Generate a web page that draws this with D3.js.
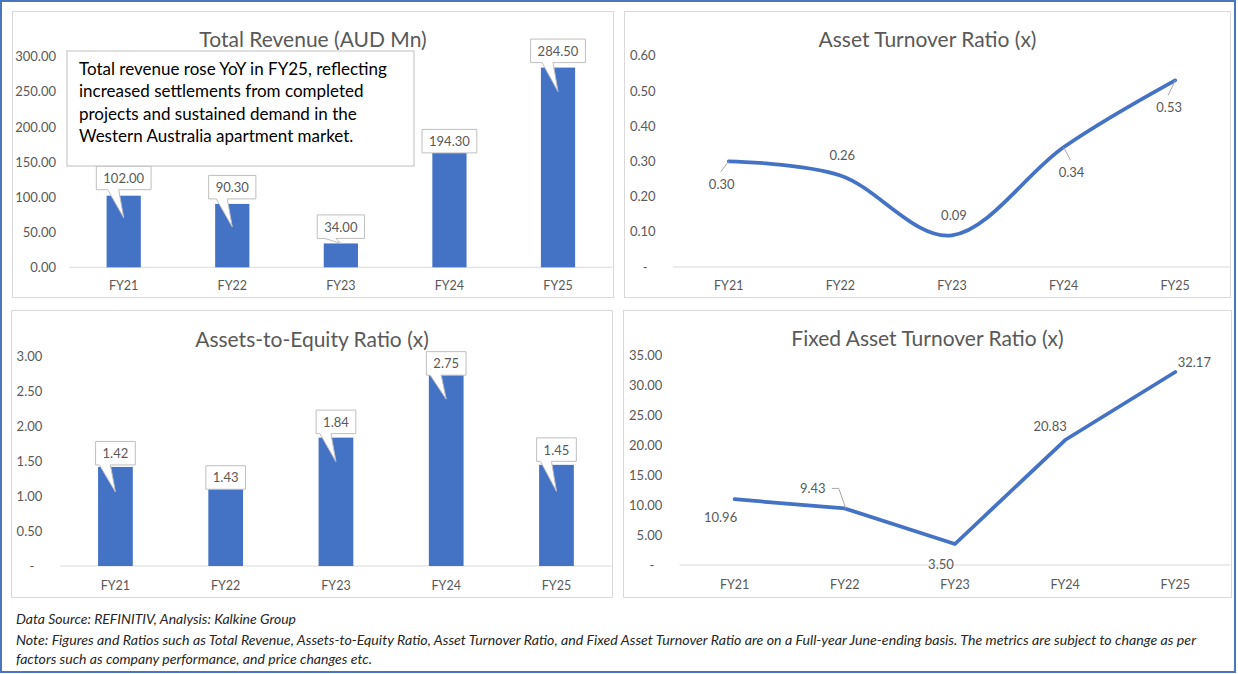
<!DOCTYPE html>
<html>
<head>
<meta charset="utf-8">
<script src="https://cdn.jsdelivr.net/npm/d3@7"></script>
<style>
  html, body { margin: 0; padding: 0; background: #fff; }
  svg { display: block; }
  text { font-family: Lato, "Open Sans", sans-serif; fill: #595959; }
</style>
</head>
<body>
<svg id="chart" width="1238" height="674"></svg>
<script>
// ---------------- DATA ----------------
const categories = ["FY21", "FY22", "FY23", "FY24", "FY25"];
const totalRevenue = [102.00, 90.30, 34.00, 194.30, 284.50];
const assetTurnover = [0.30, 0.26, 0.09, 0.34, 0.53];
const assetsToEquity = [1.42, 1.43, 1.84, 2.75, 1.45];
const fixedAssetTurnover = [10.96, 9.43, 3.50, 20.83, 32.17];

const revenueTicks = [0, 50, 100, 150, 200, 250, 300];
const assetTurnoverTicks = [0, 0.1, 0.2, 0.3, 0.4, 0.5, 0.6];
const equityTicks = [0, 0.5, 1, 1.5, 2, 2.5, 3];
const fixedTicks = [0, 5, 10, 15, 20, 25, 30, 35];

const titles = ["Total Revenue (AUD Mn)", "Asset Turnover Ratio (x)", "Assets-to-Equity Ratio (x)", "Fixed Asset Turnover Ratio (x)"];
const annotationLines = [
  "Total revenue rose YoY in FY25, reflecting",
  "increased settlements from completed",
  "projects and sustained demand in the",
  "Western Australia apartment market."
];
const footerLines = [
  "Data Source: REFINITIV, Analysis: Kalkine Group",
  "Note: Figures and Ratios such as Total Revenue, Assets-to-Equity Ratio, Asset Turnover Ratio, and Fixed Asset Turnover Ratio are on a Full-year June-ending basis. The metrics are subject to change as per",
  "factors such as company performance, and price changes etc."
];

// -------------- LAYOUT (label placement, not data) --------------
// callouts: [box bottom offset from bar top, pointer length]
const revenueCallouts = [[-6, 28], [-5, 28], [-5, 5], [22, 0], [-5, 29]];
const equityCallouts = [[-2, 27], [23, 0], [-4, 28], [1, 24], [-3.5, 30]];
// line labels: [dx, dy, leader]
const atLabels = [[-7, 22.5, 1], [2, -20, 0], [2, -20, 0], [8, 25, 1], [-6, 27, 1]];
const fatLabels = [[-14, 18, 0], [-32, -20, 2], [-14, 20, 0], [-15, -14, 0], [19, -10, 0]];

const BLUE = "#4472C4";
const GRID = "#D9D9D9";
const svg = d3.select("#chart");

// Outer border
svg.append("rect").attr("x", 1).attr("y", 1).attr("width", 1234).attr("height", 671)
  .attr("fill", "none").attr("stroke", "#4A76C0").attr("stroke-width", 2);

const fmt2 = v => v === 0 ? "-" : d3.format(".2f")(v);

function panel(p) {
  svg.append("rect").attr("x", p.box[0]).attr("y", p.box[1]).attr("width", p.box[2]).attr("height", p.box[3])
    .attr("fill", "#fff").attr("stroke", GRID).attr("stroke-width", 1);
  svg.append("text").attr("x", p.box[0] + p.box[2] / 2).attr("y", p.titleY)
    .attr("text-anchor", "middle").attr("dominant-baseline", "central")
    .style("font-size", "21px").text(p.title);

  const x = d3.scaleBand().domain(categories).range(p.xr).paddingInner(0).paddingOuter(0);
  const y = d3.scaleLinear().domain([0, p.ticks[p.ticks.length - 1]]).range(p.yr);

  // baseline
  svg.append("line").attr("x1", p.xr[0]).attr("x2", p.xr[1]).attr("y1", p.yr[0]).attr("y2", p.yr[0])
    .attr("stroke", GRID).attr("stroke-width", 1);

  // y axis
  const ya = svg.append("g").attr("transform", `translate(${p.yLabelX},0)`)
    .call(d3.axisLeft(y).tickValues(p.ticks).tickFormat(p.zeroDash ? fmt2 : d3.format(".2f")).tickSize(0).tickPadding(0));
  ya.select(".domain").remove();
  ya.selectAll("text").style("font-size", "13px").attr("fill", "#595959")
    .attr("font-family", null)
    .attr("dx", d => (p.zeroDash && d === 0) ? -8 : 0);

  // x axis
  const xa = svg.append("g").attr("transform", `translate(0,${p.catY})`)
    .call(d3.axisBottom(x).tickSize(0).tickPadding(0));
  xa.select(".domain").remove();
  xa.selectAll("text").style("font-size", "12.5px").attr("fill", "#595959")
    .attr("font-family", null).attr("dy", "0.35em").attr("y", 0);

  const cx = c => x(c) + x.bandwidth() / 2;

  if (p.type === "bar") {
    const bw = x.bandwidth() * 0.315;
    svg.append("g").selectAll("rect").data(p.values).join("rect")
      .attr("x", (d, i) => cx(categories[i]) - bw / 2)
      .attr("y", d => y(d))
      .attr("width", bw)
      .attr("height", d => y(0) - y(d))
      .attr("fill", BLUE);

    // callouts
    const g = svg.append("g");
    p.values.forEach((v, i) => {
      const label = d3.format(".2f")(v);
      const c = cx(categories[i]);
      const [off, ptr] = p.callouts[i];
      const bottom = y(v) + off;
      const h = 23.5;
      const top = bottom - h;
      const t = g.append("text").attr("x", c).attr("y", top + h / 2)
        .attr("text-anchor", "middle").attr("dominant-baseline", "central")
        .style("font-size", "13px").text(label);
      const w = t.node().getComputedTextLength() + 14;
      const l = c - w / 2, r = c + w / 2;
      let d;
      if (ptr > 0) {
        const b1 = c - 16, b2 = c - 5;
        d = `M${l},${top}H${r}V${bottom}H${b2}L${c},${bottom + ptr}L${b1},${bottom}H${l}Z`;
      } else {
        d = `M${l},${top}H${r}V${bottom}H${l}Z`;
      }
      g.insert("path", "text").attr("d", d).attr("fill", "#fff").attr("stroke", "#BFBFBF").attr("stroke-width", 1);
    });
  } else {
    const pts = p.values.map((v, i) => [cx(categories[i]), y(v)]);
    const line = d3.line().curve(p.smooth ? d3.curveCardinal.tension(0) : d3.curveLinear);
    svg.append("path").attr("d", line(pts)).attr("fill", "none")
      .attr("stroke", BLUE).attr("stroke-width", 3.75).attr("stroke-linejoin", "round").attr("stroke-linecap", "round");
    const g = svg.append("g");
    p.values.forEach((v, i) => {
      const [dx, dy, leader] = p.labels[i];
      const [px, py] = pts[i];
      const lx = px + dx, ly = py + dy;
      if (leader === 1) {
        const ey = dy > 0 ? ly - 12 : ly + 12;
        g.append("line").attr("x1", px).attr("y1", py).attr("x2", lx - 1).attr("y2", ey)
          .attr("stroke", "#A6A6A6").attr("stroke-width", 1);
      } else if (leader === 2) {
        g.append("path").attr("d", `M${lx + 19},${ly}H${lx + 26}L${px + 1},${py}`)
          .attr("fill", "none").attr("stroke", "#A6A6A6").attr("stroke-width", 1);
      }
      g.append("text").attr("x", lx).attr("y", ly).attr("text-anchor", "middle")
        .attr("dominant-baseline", "central").style("font-size", "13px").text(d3.format(".2f")(v));
    });
  }
}

panel({
  box: [12.5, 11.5, 601, 286], title: titles[0], titleY: 38.5, type: "bar",
  values: totalRevenue, ticks: revenueTicks, zeroDash: false,
  xr: [69.4, 612.3], yr: [267.3, 56.7], yLabelX: 56, catY: 286, callouts: revenueCallouts
});
panel({
  box: [624.5, 11.5, 606, 286], title: titles[1], titleY: 38, type: "line", smooth: true,
  values: assetTurnover, ticks: assetTurnoverTicks, zeroDash: true,
  xr: [672.9, 1231], yr: [267, 55.7], yLabelX: 655.6, catY: 286, labels: atLabels
});
panel({
  box: [11.5, 310.5, 601, 287], title: titles[2], titleY: 338, type: "bar",
  values: assetsToEquity, ticks: equityTicks, zeroDash: true,
  xr: [60.3, 611.6], yr: [566, 356.7], yLabelX: 42.3, catY: 586, callouts: equityCallouts
});
panel({
  box: [623.5, 310.5, 608, 287], title: titles[3], titleY: 337, type: "line", smooth: false,
  values: fixedAssetTurnover, ticks: fixedTicks, zeroDash: true,
  xr: [679.5, 1230.4], yr: [565, 355], yLabelX: 662.3, catY: 585, labels: fatLabels
});

// Annotation box (top-left)
svg.append("rect").attr("x", 67).attr("y", 51).attr("width", 347).attr("height", 115)
  .attr("fill", "#fff").attr("stroke", "#BFBFBF").attr("stroke-width", 1);
svg.append("g").selectAll("text").data(annotationLines).join("text")
  .attr("x", 79).attr("y", (d, i) => 68.5 + i * 22.3)
  .attr("dominant-baseline", "central").style("font-size", "17px").style("fill", "#000")
  .text(d => d);

// Footer
const footerY = [619, 640, 659];
const footerW = [280, 1180, 356];
svg.append("g").selectAll("text").data(footerLines).join("text")
  .attr("x", 16).attr("y", (d, i) => footerY[i])
  .attr("dominant-baseline", "central")
  .attr("textLength", (d, i) => footerW[i]).attr("lengthAdjust", "spacingAndGlyphs")
  .style("font-size", "12.5px").style("font-style", "italic").style("fill", "#262626")
  .text(d => d);
</script>
</body>
</html>
